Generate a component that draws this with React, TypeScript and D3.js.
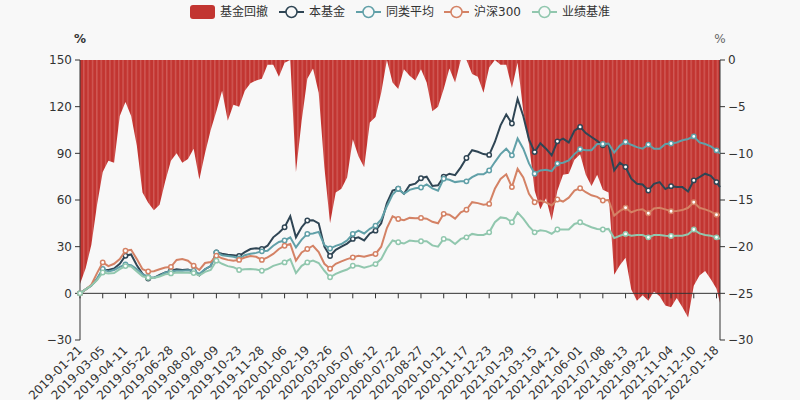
import React from 'react'
import * as d3 from 'd3'

// x-axis labels, one every 26 trading days
const tickDates = [
  '2019-01-21', '2019-03-05', '2019-04-11', '2019-05-22', '2019-06-28', '2019-08-02',
  '2019-09-09', '2019-10-23', '2019-11-28', '2020-01-06', '2020-02-19', '2020-03-26',
  '2020-05-07', '2020-06-12', '2020-07-22', '2020-08-27', '2020-10-12', '2020-11-17',
  '2020-12-23', '2021-01-29', '2021-03-15', '2021-04-21', '2021-06-01', '2021-07-08',
  '2021-08-13', '2021-09-22', '2021-11-04', '2021-12-10', '2022-01-18',
]

// cumulative returns (%), sampled every 6.5 trading days
const fundReturn = [
  0, 2.5, 5, 9, 15, 15, 16, 19, 24.2, 25,
  18, 12.5, 9.5, 10, 11.8, 13.4, 14.5, 15.5, 15, 15.3,
  14, 11.5, 15.5, 17.5, 26.3, 25.5, 24.8, 24.5, 24, 26.5,
  28.5, 29, 28.5, 30.6, 36, 39, 42.5, 49.5, 36, 42.5,
  46.8, 47, 45, 30, 24, 28, 30, 32, 35, 36,
  34, 38.5, 40.3, 45, 58, 66, 67.2, 64, 69.5, 70.5,
  74, 75, 69, 69.5, 75, 76.9, 76, 81, 87, 92,
  91, 89.5, 89, 97.3, 108, 115, 109.2, 125, 114, 99,
  90.8, 96.5, 93, 88.7, 97.7, 99.5, 97, 104.5, 107, 103,
  100.5, 98, 95.2, 96, 79, 84, 81.2, 73.7, 70.4, 70,
  66.1, 70.4, 71.5, 67, 68.9, 68.3, 68.3, 65.5, 72.6, 74.7,
  76.9, 75.5, 71.5, 68.3,
]

const peerAverage = [
  0, 2.5, 5, 9.5, 15.6, 14, 15, 17, 18.5, 18,
  15.6, 12.3, 10.5, 10, 11.3, 13.4, 14, 14.5, 14.5, 14.8,
  14.5, 12.5, 15.5, 17.5, 26.3, 24.5, 24, 23.5, 22.5, 24.5,
  25.5, 26, 27, 27.4, 30.6, 33, 34, 36, 29.5, 34.5,
  38.2, 38.5, 39.5, 31, 28.8, 30.5, 31.7, 34, 38.2, 40.3,
  38.5, 41.5, 43.5, 47.5, 56, 63.5, 67.2, 64, 66.5, 67.5,
  68, 70, 67.5, 66, 73.7, 73, 71.5, 72, 72, 74.7,
  76.5, 76.5, 79, 84.4, 89.5, 93, 88.7, 99.5, 93, 83.5,
  76.9, 79, 79.5, 78.5, 83.4, 84, 85.5, 89.5, 92.6, 92,
  92, 96, 96, 96.3, 90.5, 95, 97.3, 95.5, 94, 93,
  95.6, 93, 93, 96, 96.3, 97, 98.4, 99.2, 100.9, 97,
  96, 94.5, 91.9, 89.8,
]

const hs300 = [
  0, 2.5, 5.5, 13, 19.9, 17.5, 19, 22, 27.4, 28,
  22, 15.5, 14, 14.2, 15.5, 16.6, 17, 21.5, 22, 21,
  17.7, 15, 19.5, 20.1, 24.2, 22.5, 21.5, 21, 21.5, 23,
  24, 23.5, 21.5, 23.1, 25.3, 28.5, 30.6, 31.7, 21, 26.3,
  28.5, 30.6, 26.5, 19, 15.8, 19, 20.5, 22, 23.1, 24.2,
  23.5, 24.5, 25.3, 30, 42, 49.5, 47.8, 47, 48.5, 48.2,
  48.5, 48, 46, 45, 51.1, 50.5, 48, 52, 53.7, 58.6,
  58, 57, 57.5, 67.2, 73.5, 76.5, 68.3, 80, 74.5, 64,
  58.6, 59.7, 58.5, 56.5, 60.3, 59, 61.5, 66, 67.6, 65,
  63, 62, 59.7, 60, 50, 53, 55, 52.1, 53.5, 54,
  51.5, 54.5, 55, 54, 52.8, 53, 53.5, 55, 58.6, 55,
  54, 52.5, 50.5, 50.5,
]

const benchmark = [
  0, 2.5, 5, 8.5, 13.4, 12.8, 13, 15.5, 17.5, 17.2,
  14, 11, 10, 9.8, 10.8, 12.2, 12.8, 13.4, 13.3, 13.3,
  13, 11.5, 13.8, 15, 21, 19, 17.5, 16.8, 15, 15.5,
  15.7, 15.3, 14.5, 15.6, 17.7, 18.8, 19.9, 22, 13, 17.7,
  19.9, 21, 19.5, 14.5, 10.3, 12.5, 14, 15.3, 17.7, 17.7,
  16.5, 17.5, 18.8, 22, 29, 34, 32.8, 32, 33.9, 33.5,
  33.5, 33.5, 30.8, 30, 35, 34.5, 31.7, 35, 36, 38.2,
  37.5, 37.5, 39.2, 45.7, 48.8, 48.3, 45.7, 52, 48, 43,
  39.2, 40.5, 40, 38.3, 41, 41, 41, 44.6, 45.7, 44,
  42.5, 41.4, 41, 41.4, 35.5, 37, 38.2, 37, 37.5, 37.5,
  36, 37.5, 37.5, 37, 36.9, 37, 37, 38, 41, 38.5,
  37.5, 37, 36, 35,
]

// fund drawdown (%), right axis
const drawdown = [
  -24, -22.3, -19.8, -15.5, -12, -10.8, -11, -6, -4.5, -6,
  -9.2, -14.2, -15.3, -16.1, -15.5, -13, -10.8, -10, -11, -10.6,
  -9.5, -12.8, -10, -7.5, -5.5, -3.3, -6.5, -4.8, -5, -3.3,
  -2.5, -2.2, -2, -0.5, -0.5, -1.8, -0.3, 0, -12, -6.5,
  -2, -0.9, -3.5, -11.5, -17.5, -14.2, -13.8, -12.6, -8.5, -10.3,
  -11.5, -6.7, -6.1, -3.5, 0, -2.4, -3.1, -1, -1.7, -2.2,
  -1, -2.4, -5.5, -5, -3.1, -0.9, -2.4, 0, 0, -1.5,
  -1.8, -3.5, -0.8, 0, -0.5, -0.5, -3, -0.3, -5.5, -9,
  -14, -16, -14.8, -17.2, -14, -12.3, -12.2, -10.7, -10.1, -12.3,
  -13.5, -12.3, -13.9, -14.2, -23, -22, -21.2, -24.6, -25.8, -25.2,
  -25.8, -24.8, -25.3, -26.3, -26.5, -25.5, -26.5, -27.6, -24.2, -23.1,
  -22.6, -23.5, -24.5, -26,
]

const leftTicks = [-30, 0, 30, 60, 90, 120, 150]
const rightTicks = [-30, -25, -20, -15, -10, -5, 0]

const TOTAL_DAYS = 732
const SAMPLE_STEP = 6.5
const LABEL_EVERY = 26

const lineSeries = [
  { name: '本基金', color: '#2f4554', values: fundReturn },
  { name: '同类平均', color: '#61a0a8', values: peerAverage },
  { name: '沪深300', color: '#d48265', values: hs300 },
  { name: '业绩基准', color: '#91c7ae', values: benchmark },
]
const barColor = '#c23531'

const FONT = '"DejaVu Sans", "Noto Sans CJK SC", sans-serif'

const App: React.FC = () => {
  const width = 800
  const height = 400
  const margin = { top: 60, right: 80, bottom: 60, left: 80 }
  const x0 = margin.left
  const x1 = width - margin.right
  const yTop = margin.top
  const yBottom = height - margin.bottom

  const x = d3.scaleLinear().domain([0, TOTAL_DAYS]).range([x0, x1])
  const yL = d3.scaleLinear().domain([-30, 150]).range([yBottom, yTop])
  const yR = d3.scaleLinear().domain([-30, 0]).range([yBottom, yTop])
  const day = (i: number) => Math.min(i * SAMPLE_STEP, TOTAL_DAYS)
  const fmt = d3.format('d')

  const area = d3
    .area<number>()
    .x((_, i) => x(day(i)))
    .y0(yR(0))
    .y1(d => yR(d))
  const line = d3
    .line<number>()
    .x((_, i) => x(day(i)))
    .y(d => yL(d))

  const markEvery = LABEL_EVERY / SAMPLE_STEP
  const lastLabelDay = (tickDates.length - 1) * LABEL_EVERY

  // legend layout
  const legendX = [190, 279, 356, 444, 532]
  const legendY = 12

  return (
    <svg
      width={width}
      height={height}
      style={{ position: 'absolute', left: 0, top: 0, fontFamily: FONT }}
    >
      <defs>
        <pattern id="ddStripes" patternUnits="userSpaceOnUse" width={4.37} height={10}>
          <rect width={4.37} height={10} fill={barColor} />
          <rect x={0} width={1.4} height={10} fill="#d05a56" />
        </pattern>
      </defs>
      <rect width={width} height={height} fill="#f8f8f8" />

      {/* drawdown bars hanging from the right axis zero */}
      <path d={area(drawdown) ?? ''} fill="url(#ddStripes)" />

      {/* axes */}
      <g stroke="#333" fill="none">
        <line x1={x0} x2={x1} y1={yL(0)} y2={yL(0)} />
        {tickDates.map((_, k) => (
          <line
            key={k}
            x1={x(k * LABEL_EVERY)}
            x2={x(k * LABEL_EVERY)}
            y1={yL(0)}
            y2={yL(0) + 5}
          />
        ))}
        <line x1={x0} x2={x0} y1={yTop} y2={yBottom} />
        {leftTicks.map(t => (
          <line key={t} x1={x0 - 5} x2={x0} y1={yL(t)} y2={yL(t)} />
        ))}
        <line x1={x1} x2={x1} y1={yTop} y2={yBottom} />
        {rightTicks.map(t => (
          <line key={t} x1={x1} x2={x1 + 5} y1={yR(t)} y2={yR(t)} />
        ))}
      </g>
      <g fontSize={12} fill="#333">
        {tickDates.map((d, k) => {
          const tx = x(k * LABEL_EVERY)
          const ty = yBottom + 8
          return (
            <text
              key={d}
              x={tx}
              y={ty}
              dy="0.35em"
              textAnchor="end"
              transform={`rotate(-45, ${tx}, ${ty})`}
            >
              {d}
            </text>
          )
        })}
        {leftTicks.map(t => (
          <text key={t} x={x0 - 8} y={yL(t)} dy="0.35em" textAnchor="end">
            {fmt(t)}
          </text>
        ))}
        {rightTicks.map(t => (
          <text key={t} x={x1 + 8} y={yR(t)} dy="0.35em">
            {fmt(t)}
          </text>
        ))}
        <text x={x0} y={yTop - 17} textAnchor="middle" fontWeight="bold">
          %
        </text>
        <text x={x1} y={yTop - 17} textAnchor="middle" fill="#666">
          %
        </text>
      </g>

      {/* return lines */}
      {lineSeries.map(s => (
        <g key={s.name}>
          <path d={line(s.values) ?? ''} fill="none" stroke={s.color} strokeWidth={2} />
          {s.values.map((v, i) =>
            i % markEvery === 0 && day(i) <= lastLabelDay ? (
              <circle
                key={i}
                cx={x(day(i))}
                cy={yL(v)}
                r={2.2}
                fill="#fff"
                stroke={s.color}
                strokeWidth={1.5}
              />
            ) : null,
          )}
        </g>
      ))}

      {/* legend */}
      <g fontSize={12} fill="#333">
        <rect x={legendX[0]} y={legendY - 7} width={25} height={14} rx={3} fill={barColor} />
        <text x={legendX[0] + 30} y={legendY} dy="0.35em">
          基金回撤
        </text>
        {lineSeries.map((s, i) => {
          const lx = legendX[i + 1]
          return (
            <g key={s.name}>
              <line x1={lx} x2={lx + 25} y1={legendY} y2={legendY} stroke={s.color} strokeWidth={2} />
              <circle cx={lx + 12.5} cy={legendY} r={5.5} fill="#f8f8f8" stroke={s.color} strokeWidth={1.5} />
              <text x={lx + 30} y={legendY} dy="0.35em">
                {s.name}
              </text>
            </g>
          )
        })}
      </g>
    </svg>
  )
}

export default App
